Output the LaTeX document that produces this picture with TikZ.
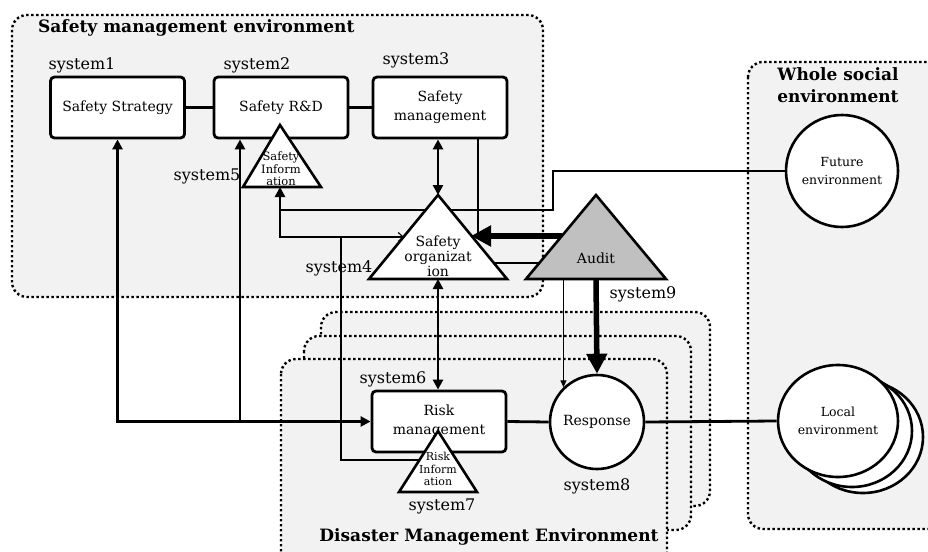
\documentclass[tikz,border=0pt]{standalone}
\usepackage{fontspec}
\setmainfont{DejaVu Serif}
\usepackage{tikz}
\usetikzlibrary{arrows.meta,calc,positioning}
\usetikzlibrary{shapes.geometric}
\definecolor{envgray}{RGB}{242,242,242}
\definecolor{auditgray}{RGB}{192,192,192}
\pgfdeclarelayer{back}
\pgfdeclarelayer{mid}
\pgfsetlayers{back,mid,main}
\tikzset{
	envbox/.style={draw=black, fill=envgray, line width=2.4pt, dash pattern=on 2.4pt off 2.6pt, rounded corners=15pt},
	envtitle/.style={font=\fontsize{17}{22}\selectfont\bfseries, align=center, inner sep=0pt},
	sysbox/.style={draw=black, fill=white, line width=2.8pt, rounded corners=4pt,
		minimum width=134pt, minimum height=61pt, align=center, font=\fontsize{14}{19}\selectfont},
	syscircle/.style={circle, draw=black, fill=white, line width=2.6pt, inner sep=0pt, align=center,
		font=\fontsize{14}{16}\selectfont},
	envcircle/.style={ellipse, draw=black, fill=white, line width=2.6pt, inner sep=0pt, align=center,
		minimum width=120pt, minimum height=112pt, font=\fontsize{12.5}{18}\selectfont},
	tri/.style={draw=black, fill=white, line width=2.6pt, line join=miter},
	tritext/.style={align=center, inner sep=0pt},
	syslabel/.style={font=\fontsize{16}{18}\selectfont, inner sep=0pt},
	thickline/.style={draw=black, line width=2.8pt},
	thinline/.style={draw=black, line width=1.1pt},
	heavyarrow/.style={draw=black, line width=5.5pt, -{Triangle[length=20pt,width=20pt]}},
	tip/.style={-{Triangle[length=10pt,width=10pt]}},
	bitip/.style={{Triangle[length=10pt,width=10pt]}-{Triangle[length=10pt,width=10pt]}},
}

\begin{document}
\begin{tikzpicture}[x=1pt, y=-1pt]
	\clip (0,0) rectangle (928,551);
	% systems
	\node[sysbox] (strategy) at (117.5,107.5) {Safety Strategy};
	\node[sysbox] (rnd) at (281,107.5) {Safety R\&D};
	\node[sysbox] (smgmt) at (440,107.5) {Safety\\management};
	\node[sysbox] (riskm) at (439,421.5) {Risk\\management};
	\node[syscircle, minimum size=94pt] (resp) at (597,422) {Response};
	\node[syscircle, minimum size=112pt, font=\fontsize{12.5}{18}\selectfont] (future) at (842,171) {Future\\environment};
	\draw[tri] (863,437) ellipse [x radius=60, y radius=56];
	\draw[tri] (852,431) ellipse [x radius=60, y radius=56];
	\node[envcircle] (local) at (838,421) {Local\\environment};

	\coordinate (sinfo-top) at (280,125);
	\coordinate (sinfo-b) at (280,187);
	\draw[tri] (sinfo-top) -- (321,187) -- (243,187) -- cycle;
	\node[tritext, font=\fontsize{11.5}{12.5}\selectfont] (sinfo) at (281,169) {Safety\\Inform\\ation};

	\coordinate (sorg-top) at (438,195);
	\coordinate (sorg-b) at (438,279);
	\draw[tri] (sorg-top) -- (507,279) -- (369,279) -- cycle;
	\node[tritext, font=\fontsize{14}{15}\selectfont] (sorg) at (438,256) {Safety\\organizat\\ion};

	\coordinate (audit-top) at (596,195);
	\coordinate (audit-b) at (596,279);
	\draw[tri, fill=auditgray] (audit-top) -- (666,279) -- (526,279) -- cycle;
	\node[tritext, font=\fontsize{14}{15}\selectfont] (audit) at (596,258) {Audit};

	\coordinate (rinfo-top) at (438,431);
	\draw[tri] (rinfo-top) -- (477,492) -- (399,492) -- cycle;
	\node[tritext, font=\fontsize{11}{12.5}\selectfont] (rinfo) at (438,469) {Risk\\Inform\\ation};

	\node[syslabel] (s1) at (82,65) {system1};
	\node[syslabel] (s2) at (257,65) {system2};
	\node[syslabel] (s3) at (416,60) {system3};
	\node[syslabel] (s4) at (339,268) {system4};
	\node[syslabel] (s5) at (207,176) {system5};
	\node[syslabel] (s6) at (393,379) {system6};
	\node[syslabel] (s7) at (442,506) {system7};
	\node[syslabel] (s8) at (597,486) {system8};
	\node[syslabel] (s9) at (643,294) {system9};

	% environments
	\begin{pgfonlayer}{back}
		\draw[envbox] (321,312) rectangle (710,506);
		\draw[envbox] (304,336) rectangle (691,530);
		\draw[envbox] (281,359) rectangle (667,580);
		\draw[envbox] (12,15) rectangle (543,297);
		\draw[envbox] (748,62) rectangle (950,529);
	\end{pgfonlayer}
	\node[envtitle, anchor=west] (smetitle) at (38,28) {Safety management environment};
	\node[envtitle] (wsetitle) at (838,85) {Whole social\\environment};
	\node[envtitle] (dmetitle) at (489,537) {Disaster Management Environment};

	% connectors
	\coordinate (j1) at (strategy.south |- riskm.west);
	\coordinate (j2) at (240,422);
	\coordinate (fbend) at (553,210);
	\coordinate (sorg-in) at (404,237);
	\coordinate (rjoin) at (341,237);
	\coordinate (rinfo-l) at (419,460);
	\coordinate (mon) at (478,236);
	\coordinate (audit-l) at (562,236);
	\coordinate (sorg-r) at (493,263);
	\coordinate (audit-r) at (540,263);
	\begin{pgfonlayer}{mid}
		\draw[thickline] (strategy) -- (rnd);
		\draw[thickline] (rnd) -- (smgmt);
		\draw[thickline, bitip] (strategy.south) -- (j1) -- (riskm.west);
		\draw[thickline, tip] (j2) -- (j2 |- rnd.south);
		\draw[thickline, bitip] (smgmt.south -| sorg-top) -- (sorg-top);
		\draw[thickline, bitip] (sorg-b) -- (sorg-b |- riskm.north);
		\draw[thickline, tip] (future.west) -| (fbend) -| (sinfo-b);
		\draw[thinline, -{Straight Barb[length=5pt,width=9pt]}] (sinfo-b |- fbend) |- (sorg-in);
		\draw[thinline] (rinfo-l) -| (rjoin);
		\draw[thinline] (smgmt.south -| mon) -- (mon);
		\draw[heavyarrow] (audit-l) -- (471,236);
		\draw[thinline] (sorg-r) -- (audit-r);
		\draw[thinline, -{Triangle[length=7pt,width=6pt]}] (resp.134 |- audit-b) -- (resp.134);
		\draw[heavyarrow] (audit-b) -- (resp.north);
		\draw[thickline] (riskm.east) -- (resp.west);
		\draw[thickline] (resp.east) -- (local.west);
	\end{pgfonlayer}
\end{tikzpicture}
\end{document}
